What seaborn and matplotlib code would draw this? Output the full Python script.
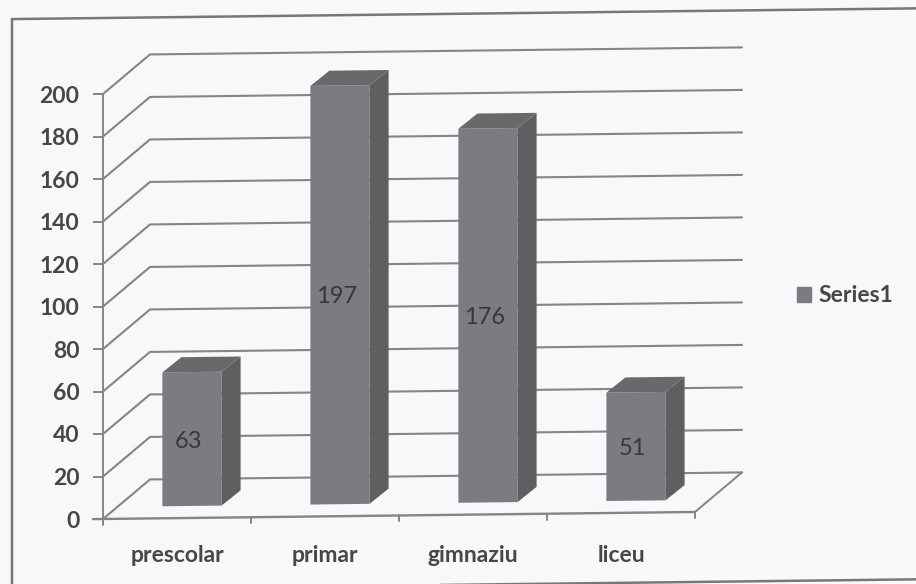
import matplotlib
matplotlib.use("Agg")
import matplotlib.pyplot as plt
import seaborn as sns
from matplotlib.lines import Line2D
from matplotlib.patches import Patch, Polygon, Rectangle
from matplotlib.transforms import Affine2D

categories = ["prescolar", "primar", "gimnaziu", "liceu"]
values = [63, 197, 176, 51]
y_ticks = list(range(0, 201, 20))
series_name = "Series1"

# look of the scanned page
FRONT = "#7b7b80"
SIDE = "#5f5f62"
TOP = "#69696c"
LINE = "#858587"
TEXT = "#47474a"
PAPER = "#f8f8fa"

W, H = 916, 584
X0, Y0 = 103, 65          # axes origin, pixels from bottom left
WALL = (47, 39)           # depth of the chart box
BAR_SHIFT = (15, 12)      # bar front relative to axis plane
BAR_DEPTH = (19, 15)      # depth of one bar

sns.set_theme(style="white")
plt.rcParams["font.family"] = ["Lato", "DejaVu Sans"]

fig = plt.figure(figsize=(W / 100, H / 100), dpi=100, facecolor=PAPER)
ax = fig.add_axes([X0 / W, Y0 / H, 592 / W, 425 / H])
ax.set_facecolor("none")

# the page was scanned slightly crooked
tilt = Affine2D().translate(-X0, -Y0).skew_deg(0, 0.68).translate(X0, Y0)

sns.barplot(x=categories, y=values, color=FRONT, saturation=1, width=0.4,
            linewidth=0, ax=ax, zorder=3)
ax.set_xlim(-0.5, 3.5)
ax.set_ylim(0, 200)
sns.despine(ax=ax, bottom=True, top=True, right=True)
ax.spines["left"].set_color(LINE)
ax.spines["left"].set_linewidth(1.4)
ax.set_yticks(y_ticks)
ax.tick_params(axis="y", length=7, width=1.4, color=LINE, pad=10,
               labelsize=16.5, labelcolor=TEXT, left=True)
ax.tick_params(axis="x", length=0, pad=19, labelsize=16.5, labelcolor=TEXT)
for label in ax.get_xticklabels() + ax.get_yticklabels():
    label.set_fontweight("bold")

fig.canvas.draw()
to_px = ax.transData.transform

# back wall and left side gridlines
for v in y_ticks:
    (xa, ya), (xb, yb) = to_px([(-0.5, v), (3.5, v)])
    pts = [(xa, ya), (xa + WALL[0], ya + WALL[1]), (xb + WALL[0], yb + WALL[1])]
    ax.add_line(Line2D(*zip(*pts), color=LINE, lw=1.5, transform=tilt,
                       clip_on=False, zorder=1))

# floor edges and category ticks
(xa, ya), (xb, yb) = to_px([(-0.5, 0), (3.5, 0)])
ax.add_line(Line2D([xa - 10, xb], [ya, yb], color=LINE, lw=1.7, transform=tilt,
                   clip_on=False, zorder=2))
ax.add_line(Line2D([xb, xb + WALL[0]], [yb, yb + WALL[1]], color=LINE, lw=1.4,
                   transform=tilt, clip_on=False, zorder=1))
for edge in [-0.5, 0.5, 1.5, 2.5, 3.5]:
    xt, yt = to_px((edge, 0))
    ax.add_line(Line2D([xt, xt], [yt, yt - 6], color=LINE, lw=1.4,
                       transform=tilt, clip_on=False, zorder=2))

# bars with side and top faces
front = Affine2D().translate(*BAR_SHIFT) + tilt
label_shift = Affine2D().translate(-1, -2) + front
for bar, value in zip(ax.patches, values):
    x = bar.get_x()
    w = bar.get_width()
    bar.set_transform(ax.transData + front)
    bar.set_clip_on(False)
    (x1, y1), (x2, y2) = to_px([(x, 0), (x + w, value)])
    dx, dy = BAR_DEPTH
    side = [(x2, y1), (x2 + dx, y1 + dy), (x2 + dx, y2 + dy), (x2, y2)]
    top = [(x1, y2), (x1 + dx, y2 + dy), (x2 + dx, y2 + dy), (x2, y2)]
    ax.add_patch(Polygon(side, closed=True, fc=SIDE, ec="none",
                         transform=front, clip_on=False, zorder=3))
    ax.add_patch(Polygon(top, closed=True, fc=TOP, ec="none",
                         transform=front, clip_on=False, zorder=3))
    ax.text(x + w * 0.46, value / 2, str(value), ha="center", va="center",
            fontsize=17, color="#38383b", transform=ax.transData + label_shift,
            clip_on=False, zorder=4)

# chart frame
fig.add_artist(Rectangle((12, -5), 930, 571, fill=False, ec="#77777a", lw=1.8,
                         transform=tilt))

fig.legend(handles=[Patch(color=FRONT, label=series_name)], frameon=False,
           loc="center left", bbox_to_anchor=(797 / W, 1 - 296 / H),
           labelcolor=TEXT, handlelength=0.6, handleheight=0.6,
           handletextpad=0.35, borderpad=0, borderaxespad=0,
           prop={"weight": "bold", "size": 16.5})

fig.savefig("out.png", dpi=100, facecolor=PAPER)
